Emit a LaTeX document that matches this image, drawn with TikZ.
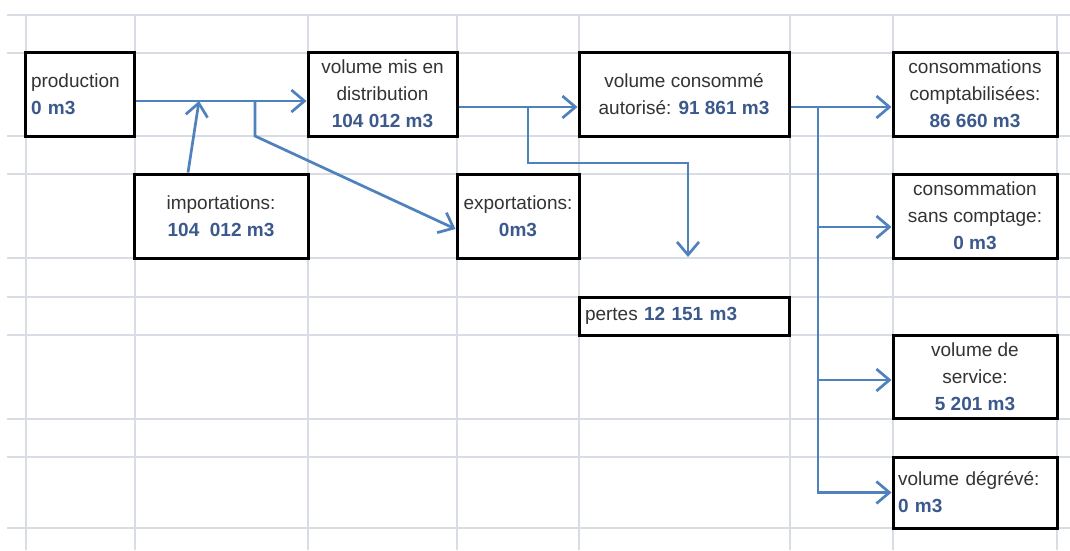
\documentclass[tikz,border=0pt]{standalone}
\usepackage{fontspec}
\setmainfont{Liberation Sans}
\usetikzlibrary{arrows.meta}

\definecolor{gridgray}{RGB}{216,220,228}
\definecolor{flowblue}{RGB}{79,129,189}
\definecolor{numblue}{RGB}{59,89,140}
\definecolor{txtgray}{RGB}{51,51,51}
\newcommand{\mval}[1]{{\bfseries\color{numblue}#1}}

\begin{document}
\begin{tikzpicture}[
  x=1pt, y=-1pt,
  cell/.style={draw=gridgray, line width=1.3pt},
  box/.style={draw=black, line width=3pt, fill=white, inner sep=0pt,
    align=center, text=txtgray, font=\fontsize{19}{27}\selectfont},
  flow/.style={draw=flowblue, line width=2.7pt,
    -{Straight Barb[length=13pt,width=22pt,line width=2.7pt]}},
]

\fill [white] (0,0) rectangle (1070,550);
\useasboundingbox (0,0) rectangle (1070,550);

\draw [cell] (7,15) -- (1070,15);
\draw [cell] (7,53) -- (1070,53);
\draw [cell] (7,136) -- (1070,136);
\draw [cell] (7,174) -- (1070,174);
\draw [cell] (7,258) -- (1070,258);
\draw [cell] (7,297) -- (1070,297);
\draw [cell] (7,335) -- (1070,335);
\draw [cell] (7,419) -- (1070,419);
\draw [cell] (7,457) -- (1070,457);
\draw [cell] (7,528) -- (1070,528);
\draw [cell] (26,15) -- (26,550);
\draw [cell] (135,15) -- (135,550);
\draw [cell] (308,15) -- (308,550);
\draw [cell] (457,15) -- (457,550);
\draw [cell] (579,15) -- (579,550);
\draw [cell] (790,15) -- (790,550);
\draw [cell] (893,15) -- (893,550);
\draw [cell] (1057,15) -- (1057,550);

\node [box, minimum width=109, minimum height=84, align=left, text width=97]
  (prod) at (79.5,94) {production\\ \mval{0 m3}};
\node [box, minimum width=149, minimum height=84]
  (dist) at (382.5,94) {volume mis en\\ distribution\\ \mval{104 012 m3}};
\node [box, minimum width=174, minimum height=84]
  (imp) at (221,216) {importations:\\ \mval{104~ 012 m3}};
\node [box, minimum width=122, minimum height=84]
  (exp) at (518,216) {exportations:\\ \mval{0m3}};
\node [box, minimum width=210, minimum height=84]
  (auto) at (684,94) {volume consommé\\ autorisé: \mval{91 861 m3}};
\node [box, minimum width=210, minimum height=38, align=left, text width=198]
  (loss) at (684,316) {pertes \mval{12 151 m3}};
\node [box, minimum width=164, minimum height=84]
  (compta) at (975,94) {consommations\\ comptabilisées:\\ \mval{86 660 m3}};
\node [box, minimum width=164, minimum height=84]
  (nometer) at (975,216) {consommation\\ sans comptage:\\ \mval{0 m3}};
\node [box, minimum width=164, minimum height=83]
  (service) at (975,376.5) {volume de\\ service:\\ \mval{5 201 m3}};
\node [box, minimum width=164, minimum height=71, align=left, text width=154]
  (relief) at (975,492.5) {volume dégrévé:\\ \mval{0 m3}};

\coordinate (jimp) at (199,101);
\coordinate (jexp) at (255,101);
\coordinate (jloss) at (528,107);
\coordinate (jcons) at (818,107);
\coordinate (lossend) at (688,257);

\draw [flow] (prod.east |- jimp) -- (dist.west |- jimp);
\draw [flow] ([xshift=-33pt]imp.north) -- (jimp);
\draw [flow] (jexp) -- ++(0,35) -- ([yshift=-13pt]exp.west);
\draw [flow] (dist.east |- jloss) -- (auto.west |- jloss);
\draw [flow] (jloss) -- ++(0,56) -| (lossend);
\draw [flow] (auto.east |- jcons) -- (compta.west |- jcons);
\draw [flow] (jcons) |- ([yshift=-11pt]nometer.west);
\draw [flow] (jcons) |- ([yshift=-3.5pt]service.west);
\draw [flow] (jcons) |- (relief.west);

\end{tikzpicture}
\end{document}
